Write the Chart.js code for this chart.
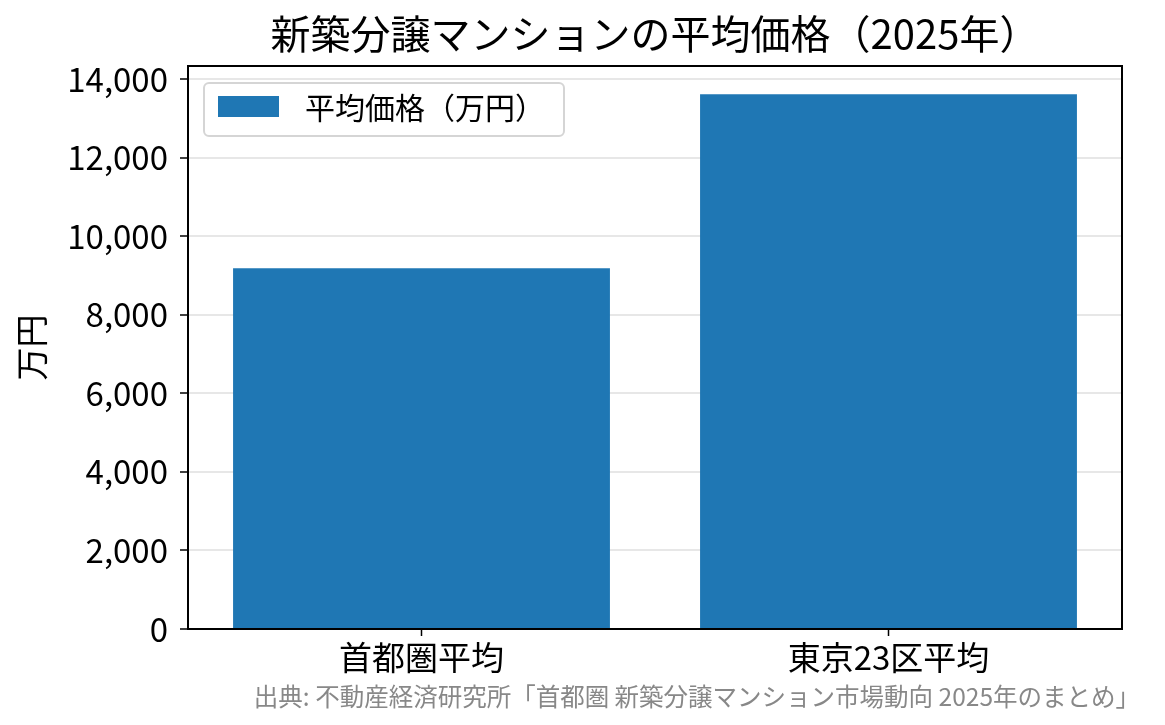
<!DOCTYPE html>
<html>
<head>
  <meta charset="utf-8">
  <title>新築分譲マンションの平均価格（2025年）</title>
  <script src="https://cdn.jsdelivr.net/npm/chart.js"></script>
  <style>
    body { margin: 0; background: #fff; }
  </style>
</head>
<body>
  <canvas id="chart" width="1165" height="725"></canvas>

  <script>
    // データ
    const categories = ["首都圏平均", "東京23区平均"];
    const prices = [9180, 13610];
    const seriesLabel = "平均価格（万円）";
    const yTicks = [0, 2000, 4000, 6000, 8000, 10000, 12000, 14000];
    const titleText = "新築分譲マンションの平均価格（2025年）";
    const yAxisTitle = "万円";
    const sourceText = "出典: 不動産経済研究所「首都圏 新築分譲マンション市場動向 2025年のまとめ」";

    const FONT = "'Noto Sans CJK JP', 'Noto Sans', sans-serif";
    const BLUE = "#1f77b4";

    // タイトル・枠線・凡例・出典を描くプラグイン
    const decorations = {
      id: "decorations",
      afterDraw(chart) {
        const ctx = chart.ctx;
        const a = chart.chartArea;
        ctx.save();

        // タイトル（プロット領域の中央）
        ctx.fillStyle = "#000";
        ctx.font = "40px " + FONT;
        ctx.textAlign = "center";
        ctx.textBaseline = "middle";
        ctx.fillText(titleText, (a.left + a.right) / 2, 34);

        // 上と右の枠線
        ctx.strokeStyle = "#000";
        ctx.lineWidth = 2;
        ctx.beginPath();
        ctx.moveTo(a.left, a.top);
        ctx.lineTo(a.right, a.top);
        ctx.lineTo(a.right, a.bottom);
        ctx.stroke();

        // 凡例（プロット内左上）
        const lx = a.left + 16, ly = a.top + 17, lw = 360, lh = 53;
        ctx.fillStyle = "rgba(255,255,255,0.8)";
        ctx.strokeStyle = "#d5d5d5";
        ctx.lineWidth = 2;
        ctx.beginPath();
        ctx.roundRect(lx, ly, lw, lh, 5);
        ctx.fill();
        ctx.stroke();
        ctx.fillStyle = chart.data.datasets[0].backgroundColor;
        ctx.fillRect(lx + 14, ly + 13, 61, 21);
        ctx.fillStyle = "#000";
        ctx.font = "30px " + FONT;
        ctx.textAlign = "left";
        ctx.fillText(chart.data.datasets[0].label, lx + 101, ly + 25);

        // 出典
        ctx.fillStyle = "#888";
        ctx.font = "24.5px " + FONT;
        ctx.textAlign = "right";
        ctx.fillText(sourceText, 1140, 697);
        ctx.restore();
      }
    };

    const ctx = document.getElementById("chart").getContext("2d");
    new Chart(ctx, {
      type: "bar",
      data: {
        labels: categories,
        datasets: [{
          label: seriesLabel,
          data: prices,
          backgroundColor: BLUE,
          borderWidth: 0,
          barPercentage: 0.807,
          categoryPercentage: 1.0
        }]
      },
      options: {
        responsive: false,
        devicePixelRatio: 1,
        animation: false,
        layout: { padding: { left: 0, right: 43, top: 66, bottom: 0 } },
        plugins: {
          legend: { display: false },
          tooltip: { enabled: false },
          title: { display: false }
        },
        scales: {
          x: {
            afterFit(scale) { scale.height = 96; },
            grid: {
              display: true,
              drawOnChartArea: false,
              offset: false,
              tickLength: 7,
              tickColor: "#000",
              tickWidth: 1.5
            },
            border: { color: "#000", width: 2 },
            ticks: {
              color: "#000",
              padding: 2,
              font: { family: FONT, size: 33 }
            }
          },
          y: {
            z: 1,
            min: 0,
            max: 14330,
            afterFit(scale) { scale.width = 188; },
            afterBuildTicks(scale) {
              scale.ticks = yTicks.map(v => ({ value: v }));
            },
            grid: {
              color: "rgba(176,176,176,0.3)",
              lineWidth: 2,
              tickLength: 8,
              tickColor: "#000",
              tickWidth: 1.5
            },
            border: { color: "#000", width: 2 },
            ticks: {
              color: "#000",
              padding: 12,
              font: { family: FONT, size: 33 },
              callback: v => v.toLocaleString("en-US")
            },
            title: {
              display: true,
              text: yAxisTitle,
              color: "#000",
              font: { family: FONT, size: 33 },
              padding: { top: 12, bottom: 0 }
            }
          }
        }
      },
      plugins: [decorations]
    });
  </script>
</body>
</html>
